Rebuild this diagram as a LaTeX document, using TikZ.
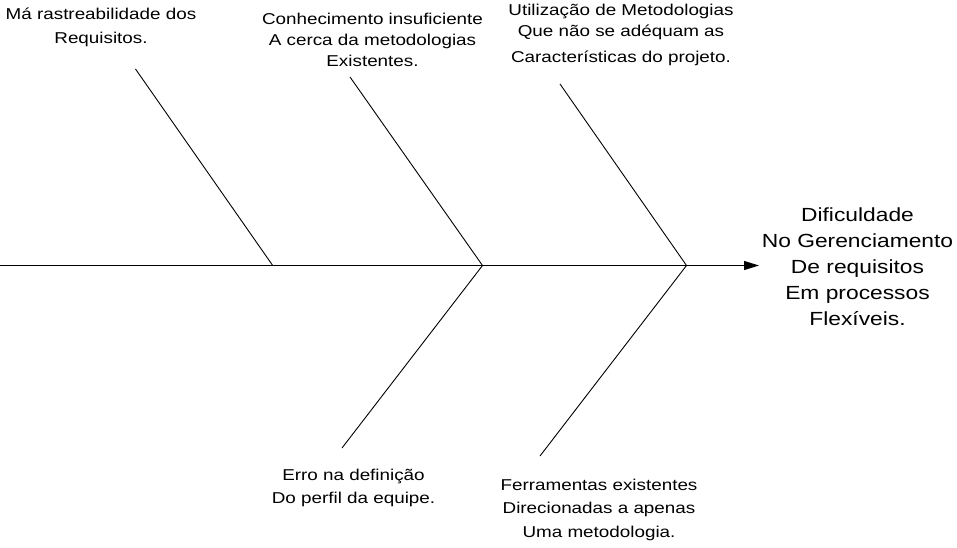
\documentclass[tikz,border=0pt]{standalone}
\usepackage{fontspec}
\setmainfont[FakeStretch=1.2]{Liberation Sans}
\usetikzlibrary{arrows.meta}
\tikzset{
  bone/.style={draw=black, line width=0.9pt},
  spine/.style={draw=black, line width=0.9pt, -{Triangle[length=15pt,width=9pt]}},
  cause/.style={align=center, inner sep=0pt, anchor=base, font=\fontsize{15.7}{23.3}\selectfont},
  effect/.style={align=center, inner sep=0pt, anchor=base, font=\fontsize{19}{25.8}\selectfont}
}
\begin{document}
\begin{tikzpicture}[x=1pt,y=-1pt]
\useasboundingbox (0,0) rectangle (957,548);
% spine
\coordinate (tail) at (0,265.5);
\coordinate (tip) at (759,265.5);
\coordinate (j1) at (272.7,265.5);
\coordinate (j2) at (482.5,265.5);
\coordinate (j3) at (686.5,265.5);
\coordinate (a1) at (135.5,69);
\coordinate (a2) at (350,77);
\coordinate (a3) at (560,84);
\coordinate (b2) at (342,448);
\coordinate (b3) at (540,456);
\draw[spine] (tail) -- (tip);
\draw[bone] (a1) -- (j1);
\draw[bone] (a2) -- (j2);
\draw[bone] (a3) -- (j3);
\draw[bone] (b2) -- (j2);
\draw[bone] (b3) -- (j3);
% texts (anchor base = baseline of the last line)
\node[cause] (t1) at (101,43.3) {Má rastreabilidade dos\\Requisitos.};
\node[cause] (t2) at (372.5,67) {Conhecimento insuficiente\\[-2.3pt]A cerca da metodologias\\[-2.3pt]Existentes.};
\node[cause] (t3) at (621,63) {Utilização de Metodologias\\[-2.3pt]Que não se adéquam as\\[2.7pt]Características do projeto.};
\node[cause] (t4) at (353.5,503.3) {Erro na definição\\Do perfil da equipe.};
\node[cause] (t5) at (599,537) {Ferramentas existentes\\Direcionadas a apenas\\Uma metodologia.};
\node[effect] (eff) at (857.5,325) {Dificuldade\\No Gerenciamento\\De requisitos\\Em processos\\Flexíveis.};
\end{tikzpicture}
\end{document}
